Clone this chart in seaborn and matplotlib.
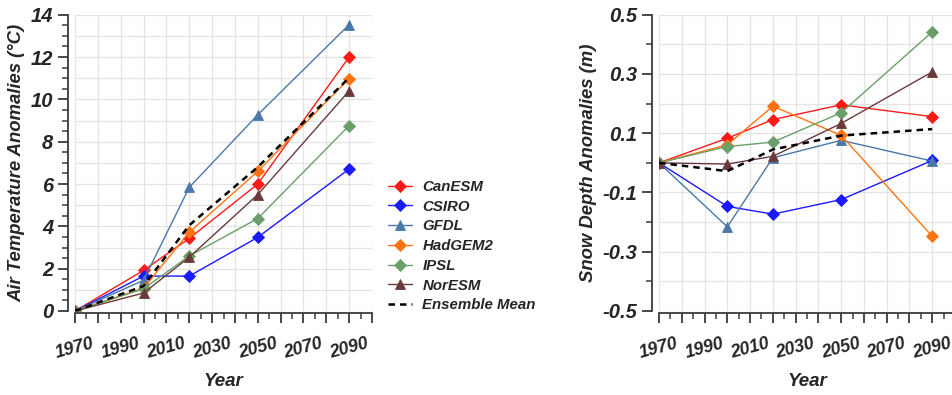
import numpy as np
import pandas as pd
import matplotlib
matplotlib.use("Agg")
import matplotlib.pyplot as plt
import seaborn as sns
from matplotlib.ticker import MultipleLocator, FuncFormatter, FixedLocator

# ---------------- data ----------------
years = [1970, 2000, 2020, 2050, 2090]
models = ["CanESM", "CSIRO", "GFDL", "HadGEM2", "IPSL", "NorESM", "Ensemble Mean"]

temp_canesm = [0, 1.92, 3.43, 6.00, 12.00]
temp_csiro = [0, 1.65, 1.65, 3.48, 6.71]
temp_gfdl = [0, 1.45, 5.84, 9.27, 13.53]
temp_hadgem2 = [0, 1.08, 3.72, 6.60, 10.98]
temp_ipsl = [0, 1.05, 2.60, 4.37, 8.76]
temp_noresm = [0, 0.85, 2.54, 5.50, 10.40]
temp_mean = [0, 1.18, 4.05, 6.80, 11.02]

snow_canesm = [0, 0.083, 0.146, 0.196, 0.156]
snow_csiro = [0, -0.147, -0.173, -0.124, 0.008]
snow_gfdl = [0, -0.216, 0.017, 0.076, 0.006]
snow_hadgem2 = [0, 0.061, 0.191, 0.093, -0.248]
snow_ipsl = [0, 0.055, 0.070, 0.169, 0.442]
snow_noresm = [0, -0.004, 0.022, 0.133, 0.307]
snow_mean = [0, -0.028, 0.045, 0.092, 0.114]

x_tick_labels = ["1970", "1990", "2010", "2030", "2050", "2070", "2090"]
temp_tick_labels = ["0", "2", "4", "6", "8", "10", "12", "14"]
snow_tick_labels = ["-0.5", "-0.3", "-0.1", "0.1", "0.3", "0.5"]

temp_series = [temp_canesm, temp_csiro, temp_gfdl, temp_hadgem2, temp_ipsl, temp_noresm, temp_mean]
snow_series = [snow_canesm, snow_csiro, snow_gfdl, snow_hadgem2, snow_ipsl, snow_noresm, snow_mean]

# ---------------- style ----------------
colors = ["#ff1a1a", "#1a1aff", "#4a78ab", "#ff7410", "#6a9f6a", "#6a3a3a", "#000000"]
markers = ["D", "D", "^", "D", "D", "^", None]
msizes = [6.0, 6.0, 6.5, 6.0, 6.0, 6.5, 0]

sns.set_theme(style="white")
plt.rcParams["font.family"] = ["Liberation Sans", "DejaVu Sans"]
plt.rcParams["axes.unicode_minus"] = False

FONT_BI = dict(fontweight="bold", fontstyle="italic")
SPINE_C = "#3a3a3a"
GRID_C = "#e3e3e3"

fig = plt.figure(figsize=(9.53, 3.95), dpi=100)
W, H = 953.0, 395.0
ax1 = fig.add_axes([75 / W, 1 - 311 / H, 297 / W, 296.3 / H])
ax2 = fig.add_axes([659 / W, 1 - 311 / H, 296 / W, 296.3 / H])


def draw(ax, series, legend):
    for name, vals, c, m, ms in zip(models, series, colors, markers, msizes):
        if m is None:
            sns.lineplot(x=years, y=vals, ax=ax, color=c, linewidth=1.8,
                         linestyle=(0, (2.6, 2.0)), label=name if legend else None,
                         legend=legend, zorder=5)
        else:
            sns.lineplot(x=years, y=vals, ax=ax, color=c, linewidth=1.0,
                         marker=m, markersize=ms, markeredgecolor=c,
                         markeredgewidth=0.6, label=name if legend else None,
                         legend=legend, zorder=4)


draw(ax1, temp_series, True)
draw(ax2, snow_series, False)

handles, labels = ax1.get_legend_handles_labels()
if ax1.get_legend() is not None:
    ax1.get_legend().remove()


def style_axis(ax, ylim, ygrid, ymajor, yminor, ylabels, ylabel):
    ax.set_xlim(1970, 2100)
    ax.set_ylim(*ylim)
    for s in ["top", "right"]:
        ax.spines[s].set_visible(False)
    for s in ["left", "bottom"]:
        ax.spines[s].set_color(SPINE_C)
        ax.spines[s].set_linewidth(1.3)
    ax.spines["left"].set_position(("outward", 5))
    ax.spines["bottom"].set_position(("outward", 1.5))
    ax.grid(False)
    for gx in np.arange(1970, 2101, 10):
        ax.axvline(gx, color=GRID_C, lw=0.9, zorder=0)
    for gy in ygrid:
        ax.axhline(gy, color=GRID_C, lw=0.9, zorder=0)

    ax.xaxis.set_major_locator(MultipleLocator(10))
    ax.xaxis.set_minor_locator(MultipleLocator(5))
    ax.xaxis.set_major_formatter(FuncFormatter(
        lambda v, p: x_tick_labels[int(round((v - 1970) / 20))]
        if (abs((v - 1970) % 20) < 1e-6 and int(round((v - 1970) / 20)) < len(x_tick_labels)) else ""))
    ax.yaxis.set_major_locator(FixedLocator(ymajor))
    ax.yaxis.set_minor_locator(FixedLocator(yminor))
    ax.set_yticklabels(ylabels)

    ax.tick_params(axis="x", which="major", direction="out", length=7, width=1.3,
                   color=SPINE_C, pad=9, labelsize=12.8, labelrotation=15, bottom=True)
    ax.tick_params(axis="x", which="minor", direction="out", length=4, width=1.1,
                   color=SPINE_C, bottom=True)
    ax.tick_params(axis="y", which="major", direction="out", length=7.5, width=1.3,
                   color=SPINE_C, pad=3, labelsize=14.5, left=True)
    ax.tick_params(axis="y", which="minor", direction="out", length=4, width=1.1,
                   color=SPINE_C, left=True)
    for t in ax.get_xticklabels() + ax.get_yticklabels():
        t.set_fontweight("bold")
        t.set_fontstyle("italic")
    for t in ax.get_xticklabels():
        t.set_ha("center")
    ax.set_xlabel("Year", fontsize=13.5, labelpad=8, **FONT_BI)
    ax.set_ylabel(ylabel, fontsize=13.3, labelpad=4, **FONT_BI)


style_axis(ax1, (0, 14), np.arange(0, 14.01, 1), np.arange(0, 14.01, 2),
           np.arange(0, 14.01, 0.5), temp_tick_labels,
           "Air Temperature Anomalies (°C)")
style_axis(ax2, (-0.5, 0.5), np.arange(-0.5, 0.501, 0.1), np.arange(-0.5, 0.501, 0.2),
           np.arange(-0.4, 0.41, 0.2), snow_tick_labels,
           "Snow Depth Anomalies (m)")

leg = fig.legend(handles, labels, loc="upper left", bbox_to_anchor=(388 / W, 1 - 180 / H),
                 frameon=False, borderpad=0, borderaxespad=0, handlelength=1.6,
                 handletextpad=0.7, labelspacing=0.38,
                 prop=dict(family="Liberation Sans", weight="bold", style="italic", size=10.8))

fig.savefig("out.png", dpi=100)
